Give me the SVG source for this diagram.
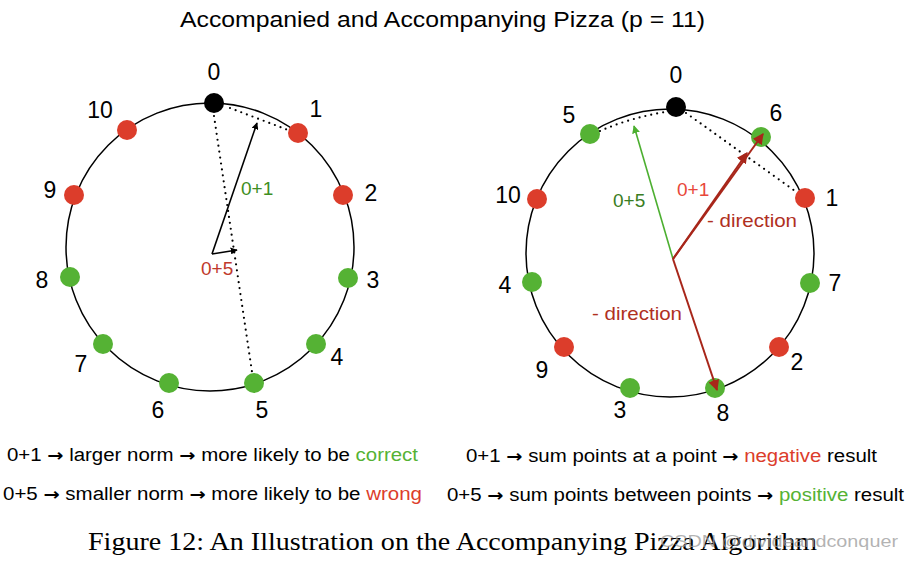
<svg xmlns="http://www.w3.org/2000/svg" width="915" height="561" viewBox="0 0 915 561">
<defs>
<style>
text{font-family:"Liberation Sans",Arial,sans-serif;}
.num{font-size:23px;fill:#000;text-anchor:middle;}
.ring{fill:none;stroke:#000;stroke-width:1.5;}
.r{fill:#DC3D2B;}
.g{fill:#55B234;}
.k{fill:#000;}
.dot{fill:none;stroke:#000;stroke-width:2.2;stroke-dasharray:0 6;stroke-linecap:round;}
.leg{font-size:18px;fill:#000;}
.arw{font-family:"DejaVu Sans",sans-serif;font-weight:bold;font-size:17px;}
</style>
<marker id="ak" viewBox="0 0 10 10" refX="9" refY="5" markerWidth="7" markerHeight="7" orient="auto" markerUnits="userSpaceOnUse"><path d="M0,0 L10,5 L0,10 z" fill="#000"/></marker>
<marker id="ar" viewBox="0 0 10 10" refX="9" refY="5" markerWidth="11" markerHeight="11" orient="auto" markerUnits="userSpaceOnUse"><path d="M0,0 L10,5 L0,10 z" fill="#A8261A"/></marker>
<marker id="ag" viewBox="0 0 10 10" refX="9" refY="5" markerWidth="8" markerHeight="8" orient="auto" markerUnits="userSpaceOnUse"><path d="M0,0 L10,5 L0,10 z" fill="#4CAF30"/></marker>
</defs>
<rect width="915" height="561" fill="#fff"/>
<text x="180" y="27" font-size="22" textLength="525" lengthAdjust="spacingAndGlyphs">Accompanied and Accompanying Pizza (p = 11)</text>

<g id="left-ring"><circle class="ring" cx="210" cy="247" r="144"/></g>
<g id="right-ring"><circle class="ring" cx="670" cy="253" r="144"/></g>

<g id="left-nodes">
<g id="L0"><circle class="k" cx="214" cy="103" r="10"/><text class="num" x="214" y="80">0</text></g>
<g id="L1"><circle class="r" cx="298" cy="133" r="10"/><text class="num" x="316" y="117">1</text></g>
<g id="L2"><circle class="r" cx="343" cy="195" r="10"/><text class="num" x="371" y="201">2</text></g>
<g id="L3"><circle class="g" cx="348" cy="278" r="10"/><text class="num" x="373" y="288">3</text></g>
<g id="L4"><circle class="g" cx="316" cy="344" r="10"/><text class="num" x="337" y="365">4</text></g>
<g id="L5"><circle class="g" cx="254" cy="383" r="10"/><text class="num" x="262" y="418">5</text></g>
<g id="L6"><circle class="g" cx="169" cy="383" r="10"/><text class="num" x="158" y="418">6</text></g>
<g id="L7"><circle class="g" cx="103" cy="344" r="10"/><text class="num" x="81" y="372">7</text></g>
<g id="L8"><circle class="g" cx="70" cy="277" r="10"/><text class="num" x="42" y="288">8</text></g>
<g id="L9"><circle class="r" cx="74" cy="195" r="10"/><text class="num" x="50" y="198">9</text></g>
<g id="L10"><circle class="r" cx="127" cy="130" r="10"/><text class="num" x="100" y="118">10</text></g>
<text x="241" y="195" font-size="19" fill="#3E8E22">0+1</text>
<text x="201" y="275" font-size="19" fill="#C0392B">0+5</text>
</g>

<g id="right-nodes">
<g id="R0"><circle class="k" cx="676" cy="107" r="10"/><text class="num" x="676" y="83">0</text></g>
<g id="R5"><circle class="g" cx="590" cy="134" r="10"/><text class="num" x="569" y="123">5</text></g>
<g id="R6"><circle class="g" cx="761" cy="137" r="10"/><text class="num" x="776" y="121">6</text></g>
<g id="R10"><circle class="r" cx="537" cy="199" r="10"/><text class="num" x="508" y="203">10</text></g>
<g id="R1"><circle class="r" cx="805" cy="198" r="10"/><text class="num" x="832" y="206">1</text></g>
<g id="R4"><circle class="g" cx="532" cy="282" r="10"/><text class="num" x="505" y="293">4</text></g>
<g id="R7"><circle class="g" cx="810" cy="283" r="10"/><text class="num" x="835" y="291">7</text></g>
<g id="R9"><circle class="r" cx="564" cy="347" r="10"/><text class="num" x="542" y="378">9</text></g>
<g id="R2"><circle class="r" cx="779" cy="347" r="10"/><text class="num" x="797" y="370">2</text></g>
<g id="R3"><circle class="g" cx="630" cy="388" r="10"/><text class="num" x="620" y="418">3</text></g>
<g id="R8"><circle class="g" cx="715" cy="388" r="10"/><text class="num" x="723" y="421">8</text></g>
<text x="677" y="196" font-size="19" fill="#E8473A">0+1</text>
<text x="707" y="227" font-size="19" textLength="90" lengthAdjust="spacingAndGlyphs" fill="#B0301F">- direction</text>
<text x="613" y="207" font-size="19" fill="#3A7D22">0+5</text>
<text x="592" y="320" font-size="19" textLength="90" lengthAdjust="spacingAndGlyphs" fill="#B0301F">- direction</text>
</g>

<g id="connectors">
<path class="dot" d="M214,116 L252,372"/>
<path class="dot" d="M230,108 L288,130"/>
<path d="M212,254 L257,123" stroke="#000" stroke-width="1.6" fill="none" marker-end="url(#ak)"/>
<path d="M212,254 L237,250" stroke="#000" stroke-width="1.6" fill="none" marker-end="url(#ak)"/>
<path class="dot" d="M600,131 Q630,118 665,112"/>
<path class="dot" d="M686,113 L795,191"/>
<path d="M673,259 L634,126" stroke="#4CAF30" stroke-width="1.6" fill="none" marker-end="url(#ag)"/>
<path d="M673,259 L747,153" stroke="#A8261A" stroke-width="2" fill="none" marker-end="url(#ar)"/>
<path d="M673,259 L763,134" stroke="#A8261A" stroke-width="2" fill="none" marker-end="url(#ar)"/>
<path d="M673,259 L717,390" stroke="#A8261A" stroke-width="2" fill="none" marker-end="url(#ar)"/>
</g>

<g id="legend">
<text class="leg" x="7" y="461" textLength="411" lengthAdjust="spacingAndGlyphs">0+1 <tspan class="arw">→</tspan> larger norm <tspan class="arw">→</tspan> more likely to be <tspan fill="#55B234">correct</tspan></text>
<text class="leg" x="3" y="500" textLength="419" lengthAdjust="spacingAndGlyphs">0+5 <tspan class="arw">→</tspan> smaller norm <tspan class="arw">→</tspan> more likely to be <tspan fill="#DC3D2B">wrong</tspan></text>
<text class="leg" x="466" y="462" textLength="411" lengthAdjust="spacingAndGlyphs">0+1 <tspan class="arw">→</tspan> sum points at a point <tspan class="arw">→</tspan> <tspan fill="#DC3D2B">negative</tspan> result</text>
<text class="leg" x="447" y="501" textLength="457" lengthAdjust="spacingAndGlyphs">0+5 <tspan class="arw">→</tspan> sum points between points <tspan class="arw">→</tspan> <tspan fill="#55B234">positive</tspan> result</text>
</g>

<text x="88" y="550" font-size="25" textLength="729" lengthAdjust="spacingAndGlyphs" style="font-family:'Liberation Serif','Times New Roman',serif">Figure 12: An Illustration on the Accompanying Pizza Algorithm</text>
<text x="660" y="547" font-size="17" fill="#9a9a9a" fill-opacity="0.75" textLength="238" lengthAdjust="spacingAndGlyphs">CSDN @divideandconquer</text>
</svg>
